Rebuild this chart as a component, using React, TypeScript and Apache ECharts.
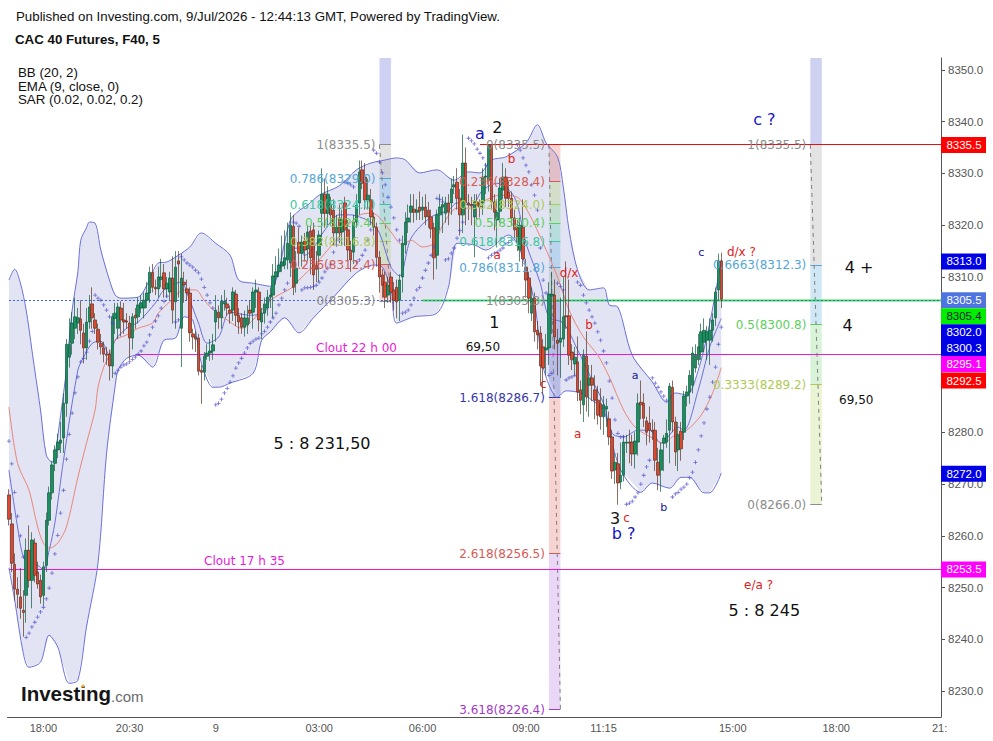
import React, { useEffect, useRef } from "react";
import * as echarts from "echarts";

// ---- axes ----
const barCount = 325;
const timeTicks: Record<number, string> = { 12: "18:00", 42: "20:30", 72: "9", 108: "03:00", 144: "06:00", 180: "09:00", 207: "11:15", 252: "15:00", 288: "18:00", 324: "21:" };
const priceTicks = [8230, 8240, 8250, 8260, 8270, 8280, 8290, 8300, 8310, 8320, 8330, 8340, 8350];
const priceLabels = [8230, 8240, 8250, 8260, 8270, 8280, 8310, 8320, 8330, 8340, 8350];
const priceMin = 8225;
const priceMax = 8352.3;

// ---- candles: open, close, low, high (one row per 5-minute bar) ----
const candles = [
/*0*/[8267.9,8263.2,8262,8269],[8262.3,8254.7,8253,8264.4],[8254.5,8249.7,8247.5,8256.6],[8249.7,8248.7,8246,8252],[8248.2,8246,8244,8253.8],
/*5*/[8245.6,8245.2,8240.5,8249.5],[8248.5,8257.2,8243.2,8259.5],[8257.2,8251.4,8250,8262],[8251.4,8259.2,8246,8260.7],[8258.6,8252.4,8251,8259.5],
/*10*/[8253,8250.7,8249.8,8255],[8251.4,8248.2,8246.9,8252.5],[8248.5,8254,8246.5,8255],[8254.3,8263,8253,8264.5],[8263,8268.3,8262,8269.5],
/*15*/[8268.3,8273.7,8267,8274.5],[8274,8276.6,8272.5,8277.5],[8276.6,8278.1,8275,8279.7],[8277.9,8278.5,8276,8282],[8278.9,8285.6,8276,8287.5],
/*20*/[8285.6,8297,8283,8298],[8294.5,8297,8292.5,8302],[8297.2,8301.1,8295,8303.2],[8300.1,8302.3,8298,8306],[8301.1,8302.1,8299,8304],
/*25*/[8301.9,8299.7,8297,8305.5],[8299.2,8296.3,8293.3,8301],[8296.3,8301.3,8294,8304],[8301.3,8304.2,8300,8306.5],[8304.8,8302.1,8300,8308],
/*30*/[8301.7,8300.1,8299,8303],[8299.9,8297.4,8296,8301],[8297.2,8296.5,8295,8299],[8296.3,8295.1,8293.5,8297.5],[8295.1,8294.9,8293,8296.5],
/*35*/[8295.1,8292.8,8290,8296],[8292.8,8302.3,8290.5,8303],[8302,8303,8299,8305],[8300.1,8304.2,8298,8305],[8304,8301.7,8298.5,8305.3],
/*40*/[8301.7,8301.3,8299,8305],[8301.5,8301.3,8300,8303],[8301.1,8298.2,8294,8302.5],[8298.2,8302.3,8296,8303],[8302.6,8302.1,8300,8304],
/*45*/[8302.3,8304.6,8301,8306],[8304,8305,8303,8306.5],[8304,8305.5,8302,8307],[8305.5,8306.9,8304,8309],[8306.9,8310.9,8305,8312],
/*50*/[8310.9,8308,8307,8312.5],[8308,8307.7,8306.5,8309.5],[8307.7,8310,8306,8312],[8309.5,8310,8308,8313.5],[8310.8,8307.7,8306,8312.5],
/*55*/[8307.7,8308.8,8306,8310],[8307.1,8309.8,8305.5,8311],[8309.8,8303.6,8301,8314],[8305.2,8311.9,8300,8315],[8313.1,8312.5,8306,8315],
/*60*/[8300.1,8309.8,8292.6,8314.5],[8309,8308.5,8305,8311],[8307.7,8306.9,8305.5,8309.5],[8306.9,8299.2,8297.5,8308],[8299,8298.4,8296,8300],
/*65*/[8298.4,8298,8295.5,8299.5],[8298.2,8291.8,8291,8299],[8292,8291.6,8285.5,8293],[8291.6,8294.7,8290,8295.5],[8294.7,8295.3,8294,8297],
/*70*/[8295.3,8295.7,8293.8,8298],[8295.7,8296.9,8294,8299],[8301.3,8303.6,8297.5,8306.5],[8303.2,8302.1,8300,8304.5],[8302.1,8305.3,8300,8306.5],
/*75*/[8304.8,8305.3,8303.5,8307.5],[8304.8,8304,8302.5,8306],[8303.6,8303,8301,8304.5],[8303.6,8307.1,8301.5,8308],[8306.7,8302.6,8300.5,8307.5],
/*80*/[8302.6,8301.3,8299,8304],[8302.1,8300.3,8299,8303],[8300.3,8302.1,8298.5,8303.5],[8300.7,8302.1,8299,8304.5],[8303.6,8303,8301,8305.5],
/*85*/[8303.2,8307.1,8300,8308],[8307.1,8307.5,8304,8309.5],[8307.1,8301.7,8299.5,8308],[8301.3,8303,8298,8304],[8303,8304.8,8301,8306],
/*90*/[8304,8306.1,8302.5,8307.5],[8306.1,8306.5,8304,8308],[8306.5,8310.2,8302,8312.5],[8310,8311,8308.5,8314],[8311,8312.3,8310,8315.5],
/*95*/[8312.1,8312.9,8311,8318],[8312.3,8313.7,8311.5,8319],[8313.3,8316.5,8311.5,8320.5],[8312.7,8320,8310,8322.5],[8319.8,8308,8306.5,8322],
/*100*/[8308.8,8311.7,8307,8315],[8316.7,8314.6,8312,8319.5],[8314.6,8316.7,8312,8318],[8316.9,8315.2,8313,8318.5],[8315.4,8318.7,8313,8320],
/*105*/[8318.9,8313.7,8310.5,8320],[8319.1,8310.4,8307.5,8320.5],[8312.3,8311.5,8309,8315],[8314.2,8318.1,8309,8319],[8322.3,8326,8316,8331],
/*110*/[8326,8322.3,8319.5,8329],[8322.3,8326,8320,8327.5],[8323.9,8322,8320,8325.5],[8322.9,8318.5,8316,8325],[8318.5,8319.6,8316.5,8322],
/*115*/[8321.4,8318.5,8316.5,8324],[8318.7,8321,8316,8323],[8324.3,8319.1,8316,8325.5],[8319.1,8315.2,8313,8321],[8315.2,8313.3,8311,8317],
/*120*/[8314.8,8320.6,8312.5,8322],[8320.6,8323.9,8319.5,8326],[8324.3,8330.3,8322,8332.5],[8330.7,8328.1,8327,8332.5],[8329.3,8324.9,8323,8332],
/*125*/[8324.9,8325.8,8323,8329],[8324.9,8321.6,8320,8327],[8321.6,8319.6,8318,8322.5],[8319.6,8313.8,8312,8320.5],[8313.8,8310,8307,8315],
/*130*/[8310.4,8308.4,8306,8311.5],[8309,8306.1,8304,8311],[8306.5,8308.4,8305,8310],[8310,8307.1,8305,8311],[8307.5,8305.5,8303.5,8309],
/*135*/[8308,8305.2,8302,8309.5],[8305.5,8309.4,8301.5,8310.5],[8310,8316.5,8307,8318],[8316.2,8320.6,8314.5,8322.5],[8320.6,8321.4,8318.5,8324],
/*140*/[8322.5,8323.7,8320.5,8326],[8323.1,8322.5,8320.5,8326],[8322.5,8322.9,8321,8325],[8323.5,8322.7,8321,8326.5],[8322.9,8323.5,8321,8325.5],
/*145*/[8323.5,8321.6,8320,8326],[8322.9,8321.6,8319.5,8324.5],[8321.6,8319.3,8317.5,8323],[8319.5,8313.7,8309.5,8320.5],[8314.2,8322,8311.5,8323],
/*150*/[8322,8323.5,8319,8326],[8323.5,8324,8318.5,8325.5],[8322.3,8324.3,8320.5,8325.5],[8324.3,8322.5,8320,8326],[8324.3,8327,8322,8329],
/*155*/[8327.4,8327.8,8326,8329.5],[8328.3,8325.2,8323,8331],[8325.2,8322,8318,8327],[8322,8332,8318.5,8337.5],[8332,8324.3,8320,8335],
/*160*/[8324.3,8323.9,8321,8326],[8324,8323.7,8320,8325.5],[8321.6,8324.5,8313.8,8326],[8324.5,8323.7,8321,8326],[8323.7,8323.5,8321.5,8325],
/*165*/[8324.3,8329.3,8322,8331],[8329.3,8329.5,8326,8332],[8328.7,8335.5,8326.5,8335.5],[8335.5,8324.5,8323,8335.5],[8324.5,8322.5,8319,8326],
/*170*/[8321,8322.5,8315.7,8325],[8322.7,8327.2,8320.5,8329],[8326.8,8329.3,8325,8332],[8329.3,8325.2,8323.5,8331],[8326.4,8325.2,8323.5,8328.5],
/*175*/[8325.2,8321.4,8320,8326.5],[8321.4,8319.1,8317.5,8323],[8319.5,8316.8,8315,8321],[8315.2,8320,8313,8321.5],[8319.6,8313.5,8312,8325],
/*180*/[8311.9,8309.4,8306,8313.5],[8309.8,8305.9,8303,8311],[8303,8305.9,8301.5,8308],[8305.9,8299.4,8297.5,8307],[8299.7,8298.8,8296,8301.5],
/*185*/[8299.2,8292.8,8289,8300.5],[8296.5,8292.4,8287.5,8298],[8295.9,8296.3,8291,8299],[8296.3,8306.7,8293,8309],[8306.3,8306.7,8299,8311],
/*190*/[8306.5,8298.4,8296,8309.5],[8297.8,8297.2,8291,8300],[8297.4,8298.2,8290.5,8306],[8298,8302.3,8296.5,8310],[8302.5,8302.3,8300,8313],
/*195*/[8302.5,8294.9,8293,8309.5],[8295.5,8294,8292,8297],[8293.2,8294.5,8291,8296.5],[8293.6,8287.8,8286,8298.5],[8288.2,8286.2,8283.5,8290],
/*200*/[8285.3,8294.9,8282,8296],[8294.7,8286.8,8284,8299.5],[8289.1,8290.5,8283,8293],[8290.5,8289.1,8286,8293],[8288.2,8286.2,8282.5,8291],
/*205*/[8286.2,8283.3,8281.5,8289],[8285.5,8283,8280.5,8288.5],[8283,8285.3,8279.5,8287],[8284.5,8285,8281,8286.5],[8282.6,8279.1,8277.5,8284],
/*210*/[8279.1,8272.5,8271,8280.5],[8272.7,8274.2,8270,8276],[8273.9,8270.2,8266,8276],[8270.4,8271.7,8269,8278],[8271.7,8278.1,8270.5,8279.5],
/*215*/[8277.9,8278.1,8276,8279.5],[8278.1,8277.9,8274,8280.5],[8278.1,8275.8,8273.5,8279.5],[8275.8,8278.3,8273,8280],[8278.1,8285.6,8275.5,8287.5],
/*220*/[8285.8,8285.3,8282.5,8290],[8285.6,8282.7,8281,8287.5],[8282.2,8280,8277.5,8283],[8281.8,8280.4,8278,8285],[8280.4,8280.2,8278.5,8282.5],
/*225*/[8280.4,8274.6,8272.5,8282],[8274.2,8271.7,8268.8,8277],[8272.7,8276.6,8268.5,8278],[8277.9,8278.9,8272.5,8279.5],[8278.1,8279.8,8277,8282.5],
/*230*/[8280.4,8288.9,8274,8289.5],[8288.7,8282,8280,8290],[8282,8276.2,8273.5,8283],[8276.6,8279.5,8272.5,8282],[8280.2,8276.8,8274.5,8282],
/*235*/[8280,8287,8278.5,8288],[8287,8287.8,8285,8289],[8287.8,8291,8285.5,8292],[8289.1,8295.3,8287.5,8296.5],[8292.4,8294.9,8291.5,8297],
/*240*/[8294,8296.5,8293,8299],[8295.5,8299.4,8294,8301],[8297.4,8299.7,8295.5,8302],[8297.8,8299.4,8294,8300.5],[8297.8,8299.7,8293,8302],
/*245*/[8299.7,8301.7,8297.5,8303],[8302.1,8307.1,8300.5,8308],[8307.5,8313.1,8305.5,8314.5],[8313.1,8305.7,8304,8314.7],
];

// ---- indicators: [bar index, price] ----
const bbUpper = [[0,8309.4],[2,8311.5],[4,8308.8],[6,8303.6],[8,8295.9],[9,8292],[11,8284.3],[13,8275.6],[15,8274.2],[16,8275.6],[18,8283.3],[20,8292],[22,8303.6],[24,8311],[25,8317.1],[27,8319.5],[28,8320.6],[30,8320.4],[32,8315.2],[35,8309.4],[37,8306.5],[39,8305.9],[45,8306.1],[48,8308.4],[52,8312.7],[55,8312.9],[59,8314.2],[63,8315.8],[67,8318.5],[72,8316.5],[77,8314.2],[80,8309.4],[85,8308.8],[91,8308.2],[98,8321],[101,8322.8],[104,8323.9],[108,8325.8],[115,8327.6],[121,8330.7],[126,8332],[131,8332.6],[135,8333],[138,8332.6],[143,8330.1],[149,8330.7],[155,8328.7],[160,8330.3],[164,8330.1],[168,8332.6],[173,8333.2],[180,8335.9],[184,8339.4],[187,8335.9],[191,8333.2],[193,8327.4],[195,8319.1],[198,8311.3],[202,8307.5],[207,8307.9],[209,8304.6],[212,8304.2],[217,8294.9],[224,8289.7],[229,8285.8],[232,8287.6],[236,8287.2],[240,8292],[244,8301.1],[248,8313.3]];
const bbLower = [[0,8253.8],[2,8247.6],[5,8237.3],[7,8234.6],[11,8235.6],[14,8240.8],[17,8238.5],[21,8231.5],[24,8232.1],[27,8242.4],[31,8254.7],[34,8276],[37,8289],[38,8292],[41,8294.3],[45,8294.9],[50,8292.6],[54,8297.8],[58,8298.2],[61,8302.3],[64,8301.7],[67,8293.4],[71,8288.7],[73,8288.7],[77,8289.5],[85,8291.4],[88,8297.8],[91,8299.4],[96,8302.1],[101,8299.2],[106,8302.1],[113,8306.1],[121,8310.8],[127,8312.3],[130,8311.9],[133,8307.5],[135,8301.1],[141,8302.3],[149,8303],[153,8308],[156,8316.5],[162,8316.2],[166,8315.2],[174,8318.1],[178,8315.2],[183,8305],[186,8292.6],[191,8286.8],[194,8288],[199,8287.6],[203,8286.2],[207,8284.3],[209,8280.4],[213,8272.7],[220,8268.4],[224,8270.2],[230,8269.2],[234,8271.3],[237,8271.3],[242,8268.3],[244,8268.3],[248,8272.1]];
const bbBasis = [[0,8284.9],[3,8274],[7,8268.8],[10,8261.7],[12,8258.6],[14,8257.6],[17,8258.6],[20,8261.7],[24,8271.3],[27,8277.9],[30,8284.3],[31,8288.7],[33,8292.6],[35,8294.9],[37,8297.8],[41,8298.8],[45,8300.1],[50,8301.1],[52,8303],[56,8305.2],[61,8307.5],[65,8307.5],[68,8305.5],[72,8303.2],[76,8301.7],[81,8300.1],[85,8301.7],[91,8305.5],[99,8308.1],[101,8309.4],[107,8312.7],[113,8316.5],[121,8321.6],[125,8322.3],[128,8322],[133,8318.7],[137,8316.2],[140,8317.1],[144,8315.8],[148,8316.5],[151,8320],[156,8323.3],[161,8323.3],[164,8324.3],[171,8325.8],[177,8325.4],[181,8322.3],[186,8316.5],[191,8310],[195,8303.6],[200,8298.4],[205,8294.9],[209,8290.7],[214,8284.3],[218,8281],[224,8278.9],[228,8277.9],[231,8279.1],[236,8280.4],[241,8283.3],[245,8287.6],[248,8292.5]];
const ema9 = [[0,8272.7],[3,8261.7],[5,8255.9],[7,8254.9],[10,8254.3],[12,8253.4],[14,8257.2],[16,8262.5],[19,8274.6],[24,8292],[26,8294.5],[29,8297.2],[32,8297.6],[35,8294.9],[37,8297.8],[41,8300.1],[45,8301.3],[51,8305],[54,8307.5],[60,8309],[62,8306.9],[66,8301.1],[69,8297.2],[73,8298.4],[77,8303.2],[84,8302.6],[89,8303.2],[91,8306.1],[95,8312.3],[100,8315.6],[103,8314.2],[106,8315.6],[110,8319.1],[115,8322],[119,8322],[122,8321.6],[126,8320.6],[129,8318.5],[133,8311.9],[136,8310.2],[140,8317.5],[147,8321.6],[153,8322.9],[156,8324.3],[161,8323.9],[165,8326.8],[170,8328.1],[176,8325.4],[180,8316.5],[185,8308.8],[188,8302.3],[193,8301.1],[198,8295.9],[203,8290.1],[207,8285.6],[210,8279.8],[214,8279.1],[219,8280.4],[223,8280.4],[227,8277.9],[233,8281],[235,8280.4],[240,8288.2],[244,8296.5],[248,8302]];
const sar = [[0,8278.3],[1,8273.9],[2,8268.4],[3,8263.8],[4,8260],[5,8255.9],[6,8240.4],[7,8241.2],[8,8242.4],[9,8243.3],[10,8244.3],[11,8245.3],[12,8246.2],[13,8247.8],[14,8249.9],[15,8252.8],[16,8256.5],[17,8260.1],[18,8264.4],[19,8268.8],[20,8274.8],[21,8279.6],[22,8283.7],[23,8287.6],[24,8290.7],[25,8293.6],[26,8294.3],[27,8295.5],[28,8297.6],[29,8299.5],[30,8306.5],[31,8305.9],[32,8305.5],[33,8304.6],[34,8303.6],[35,8302.3],[36,8301.1],[37,8291.4],[38,8292],[39,8292.6],[40,8293],[41,8293.2],[42,8293.6],[43,8294.1],[44,8294.5],[45,8295.1],[46,8295.7],[47,8296.7],[48,8297.4],[49,8298.8],[50,8300.3],[51,8301.5],[52,8302.5],[53,8304],[54,8305.3],[55,8306.3],[58,8301.3],[59,8301.7],[60,8313.9],[61,8313.3],[62,8312.7],[63,8312.3],[64,8311.9],[65,8311.3],[66,8310.8],[67,8309.6],[68,8308],[69,8306.5],[70,8305],[71,8304],[72,8285.3],[73,8285.6],[74,8286.4],[75,8287.6],[76,8288.5],[77,8289.7],[78,8290.9],[79,8292.4],[80,8293.4],[81,8294.3],[82,8295.3],[83,8296.3],[84,8297.2],[85,8297.6],[86,8298],[87,8298.2],[88,8299],[89,8299.5],[90,8300.3],[91,8301.3],[92,8302.1],[93,8303],[94,8304.6],[95,8305.9],[96,8307.5],[97,8308.8],[99,8320.6],[100,8320.4],[101,8319.8],[102,8307.5],[103,8307.9],[104,8307.9],[105,8308],[106,8308.2],[107,8308.4],[108,8309],[109,8309.8],[110,8311],[111,8311.7],[112,8312.5],[113,8314.8],[114,8316.2],[115,8317.1],[117,8328.3],[118,8328.1],[119,8327.8],[120,8327.4],[121,8312.9],[122,8313.3],[123,8314.2],[124,8315.2],[125,8317.1],[126,8319.1],[127,8334.5],[128,8333.9],[129,8332.2],[130,8330.1],[131,8327.8],[132,8325.4],[133,8323.5],[134,8321.4],[135,8319.1],[136,8317.1],[137,8303],[138,8303.2],[139,8303.6],[140,8304.6],[141,8305.9],[142,8307.5],[143,8308],[144,8309.8],[145,8311.3],[146,8312.7],[147,8314.2],[148,8315.8],[149,8325.2],[150,8325],[151,8324.5],[152,8313.3],[153,8313.5],[154,8314.6],[155,8315.6],[156,8317.5],[157,8319],[158,8320.6],[160,8336.8],[161,8336.3],[162,8335.7],[163,8334.7],[164,8333.9],[165,8333],[166,8331.6],[167,8313.7],[168,8314.2],[169,8314.6],[170,8314.8],[171,8315.2],[172,8315.6],[173,8316.4],[174,8316.7],[175,8317.1],[177,8335.5],[178,8334.5],[179,8333],[180,8331.6],[181,8330.3],[182,8327.8],[183,8325.8],[184,8322.9],[185,8315.6],[186,8309.4],[187,8306.9],[188,8291],[189,8291.4],[191,8308.8],[192,8308.2],[193,8307.5],[194,8290.1],[195,8290.5],[196,8290.7],[197,8291],[198,8309],[199,8308.4],[200,8306.5],[201,8305],[202,8303.6],[203,8302.3],[204,8301.1],[205,8299.4],[206,8297.8],[207,8295.7],[208,8293.4],[209,8289.9],[210,8286.6],[211,8282.4],[212,8279.8],[213,8279.1],[214,8279.1],[215,8266.1],[216,8266.3],[217,8266.7],[218,8267.5],[219,8268.3],[220,8270],[221,8271.7],[222,8273.3],[223,8274.6],[224,8290.5],[225,8289.5],[226,8288.7],[227,8287.8],[228,8287],[229,8286.2],[231,8267.5],[232,8268.1],[233,8268.4],[234,8269],[235,8269.4],[236,8270],[237,8271.2],[238,8272.3],[239,8274.2],[240,8276.6],[241,8279.3],[242,8281.8],[243,8284.5],[244,8286.8],[245,8289.7],[246,8292.6],[247,8297],[248,8300.3]];

// ---- Fibonacci drawings: bar span, then [label, price, shade name] from top to bottom ----
const fibBandA = { from: 129, to: 133, top: priceMax, shadeTop: "navy" };
const fibLevelsA: [string, number, string][] = [["1",8335.5,"gray"],["0.786",8329.0,"blue"],["0.618",8324.0,"teal"],["0.5",8320.4,"green"],["0.382",8316.8,"olive"],["0.236",8312.4,"red"],["0",8305.3,"end"]];
const fibBandB = { from: 188, to: 192, top: 8335.5, shadeTop: "red" };
const fibLevelsB: [string, number, string][] = [["0",8335.5,"red"],["0.236",8328.4,"olive"],["0.382",8324.0,"green"],["0.5",8320.4,"teal"],["0.618",8316.8,"blue"],["0.786",8311.8,"gray"],["1",8305.3,"navy"],["1.618",8286.7,"red"],["2.618",8256.5,"purple"],["3.618",8226.4,"end"]];
const fibBandC = { from: 279, to: 283, top: priceMax, shadeTop: "navy" };
const fibLevelsC: [string, number, string][] = [["1",8335.5,"gray"],["0.6663",8312.3,"blue"],["0.5",8300.8,"green"],["0.3333",8289.2,"olive"],["0",8266.0,"end"]];
// the colour of a level's label
const fibLabelTones: Record<string, string> = { "0": "gray", "1": "gray", "0.786": "blue", "0.618": "teal", "0.5": "green", "0.382": "olive", "0.236": "red", "1.618": "navy", "2.618": "red", "3.618": "purple", "0.6663": "blue", "0.3333": "olive" };

// ---- horizontal lines: starting bar, price ----
const redLine = [164, 8335.5];
const greenLine = [144, 8305.4];
const lastLine = [0, 8305.5];
const cloutLines = [[44, 8295.1], [0, 8253.5]];

// ---- price tags: text, axis position after de-overlap, kind ----
const priceTags: [string, number, string][] = [["8335.5",8335.5,"red"],["8313.0",8313.0,"blue"],["8305.5",8305.5,"last"],["8305.4",8302.4,"green"],["8302.0",8299.3,"blue"],["8300.3",8296.3,"blue"],["8295.1",8293.2,"magenta"],["8292.5",8290.0,"red"],["8272.0",8272.0,"blue"],["8253.5",8253.5,"magenta"]];

// ---- annotations: text, bar, price ----
const notesBigBlue: [string, number, number][] = [["a",164,8337.8],["c ?",263,8340.5],["b ?",214,8260.5]];
const notesBigBlack: [string, number, number][] = [["2",170,8338.8],["1",169,8301.3],["3",211,8263.4],["5 : 8 231,50",109,8277.9],["5 : 8 245",263,8245.6],["4 +",296,8311.9],["4",292,8300.7]];
const notesSmallBlack: [string, number, number][] = [["69,50",165,8296.5],["69,50",295,8286.2]];
const notesRed: [string, number, number][] = [["b",175,8332.8],["a",170,8314.2],["d/x",195,8310.8],["b",202,8300.7],["c",186,8289.4],["a",198,8279.6],["c",215,8263.4],["d/x ?",255,8314.8],["e/a ?",261,8250.5]];
const notesNavy: [string, number, number][] = [["a",218,8291],["c",241,8314.8],["b",228,8265.4]];
const notesMagenta: [string, number, number][] = [["Clout 22 h 00",121,8296.3],["Clout 17 h 35",82,8255.1]];

const headerLine = "Published on Investing.com, 9/Jul/2026 - 12:44:13 GMT, Powered by TradingView.";
const titleLine = "CAC 40 Futures, F40, 5";
const studyLines = ["BB (20, 2)", "EMA (9, close, 0)", "SAR (0.02, 0.02, 0.2)"];

// ---- styles ----
const SANS = '"Liberation Sans", Arial, sans-serif';
const DEJA = '"DejaVu Sans", Verdana, sans-serif';
const SHADES: Record<string, string> = {
  navy: "rgba(60,70,200,0.25)", gray: "rgba(128,128,128,0.22)", blue: "rgba(66,165,220,0.25)", teal: "rgba(60,200,160,0.25)",
  green: "rgba(80,200,80,0.22)", olive: "rgba(160,200,60,0.22)", red: "rgba(220,60,50,0.22)", purple: "rgba(150,50,210,0.2)",
};
const TONES: Record<string, string> = { gray: "#8c8c8c", blue: "#55a6d6", teal: "#3cc8a0", green: "#5ccf5c", olive: "#aecb57", red: "#d65a55", navy: "#3636ac", purple: "#a23ac8" };
const TAGS: Record<string, [string, string]> = { red: ["#ff0000", "#fff"], blue: ["#0000e6", "#fff"], last: ["#4f74e0", "#fff"], green: ["#00ee00", "#123"], magenta: ["#ff00ff", "#fff"] };
const BAND_LINE = "#6a70d8";
const crisp = (y: number) => Math.round(y - 0.5) + 0.5;

const textEl = (text: string, x: number, y: number, fill: string, font: string, align = "center", z2 = 10) => ({
  type: "text", x, y, z2, silent: true,
  style: { text, fill, font, align, verticalAlign: "middle", textAlign: align, textVerticalAlign: "middle" },
});

function fibElements(api: any, band: any, levels: [string, number, string][]) {
  const out: any[] = [];
  const xa = api.coord([band.from, levels[0][1]])[0];
  const xb = api.coord([band.to, levels[0][1]])[0];
  const yOf = (v: number) => api.coord([band.from, v])[1];
  const rect = (t: number, b: number, shade: string) => ({
    type: "rect", shape: { x: xa, y: yOf(t), width: xb - xa, height: yOf(b) - yOf(t) }, style: { fill: SHADES[shade] }, silent: true,
  });
  if (band.top > levels[0][1]) out.push(rect(band.top, levels[0][1], band.shadeTop));
  levels.forEach((lv, n) => {
    if (n < levels.length - 1) out.push(rect(lv[1], levels[n + 1][1], lv[2]));
  });
  levels.forEach((lv) => {
    const y = crisp(yOf(lv[1]));
    out.push({ type: "line", shape: { x1: xa, y1: y, x2: xb, y2: y }, style: { stroke: TONES[fibLabelTones[lv[0]]], lineWidth: 1 }, silent: true });
  });
  const first = levels[0], last = levels[levels.length - 1];
  out.push({ type: "line", shape: { x1: xa, y1: yOf(first[1]), x2: xb, y2: yOf(last[1]) }, style: { stroke: "#7f7f7f", lineWidth: 1, lineDash: [4, 4] }, silent: true });
  return out;
}

function fibLabels(api: any, band: any, levels: [string, number, string][]) {
  return levels.map((lv) => {
    const p = api.coord([band.from, lv[1]]);
    return textEl(`${lv[0]}(${lv[1].toFixed(1)})`, p[0] - 4, p[1], TONES[fibLabelTones[lv[0]]], `12px ${DEJA}`, "right");
  });
}

export default function App() {
  const ref = useRef<HTMLDivElement>(null);
  useEffect(() => {
    if (!ref.current) return;
    const chart = echarts.init(ref.current, undefined, { renderer: "svg" });
    const categories = Array.from({ length: barCount }, (_, i) => timeTicks[i] ?? "");
    const isLabelled = (i: number) => timeTicks[i] !== undefined;

    const notes = (list: [string, number, number][], api: any, fill: string, font: string) =>
      list.map(([t, i, v]) => {
        const p = api.coord([i, v]);
        return textEl(t, p[0], p[1], fill, font);
      });

    const option: any = {
      animation: false,
      backgroundColor: "#fff",
      grid: { left: 7.5, right: 52, top: 58, bottom: 24 },
      xAxis: {
        type: "category", data: categories, boundaryGap: true,
        axisLine: { lineStyle: { color: "#555" } },
        axisTick: { interval: isLabelled, alignWithLabel: true, length: 4, lineStyle: { color: "#555" } },
        axisLabel: { interval: isLabelled, color: "#555", fontFamily: "Liberation Sans", fontSize: 11, margin: 5 },
        splitLine: { show: false },
      },
      yAxis: {
        type: "value", position: "right", min: priceMin, max: priceMax, scale: true,
        axisLine: { show: true, lineStyle: { color: "#555" } },
        axisTick: { show: true, length: 4, customValues: priceTicks, lineStyle: { color: "#555" } },
        axisLabel: { color: "#555", fontFamily: "Liberation Sans", fontSize: 11.5, margin: 7, customValues: priceLabels, formatter: (v: number) => v.toFixed(1) },
        splitLine: { show: false },
      },
      graphic: [
        { type: "text", x: 16, y: 10, style: { text: headerLine, fill: "#111", font: `13.3px ${SANS}` } },
        { type: "text", x: 15, y: 33, style: { text: titleLine, fill: "#111", font: `bold 13.3px ${SANS}` } },
        ...studyLines.map((s, n) => ({ type: "text", x: 18, y: 66 + n * 13.5, style: { text: s, fill: "#111", font: `13.3px ${SANS}` } })),
        { type: "text", x: 21, y: 683, z: 20, style: { text: "Investing", fill: "#161616", font: `bold 20.5px ${SANS}` } },
        { type: "text", x: 111, y: 689, z: 20, style: { text: ".com", fill: "#6a6a6a", font: `15px ${SANS}` } },
        { type: "circle", shape: { cx: 83, cy: 686, r: 1.5 }, z: 21, style: { fill: "#f5a623" } },
      ],
      series: [
        {
          type: "custom", z: 1, silent: true, data: [[0, 8300]], clip: false,
          renderItem: (_: any, api: any) => {
            const pts = [...bbUpper, ...[...bbLower].reverse()].map((p) => api.coord(p));
            return { type: "polygon", shape: { points: pts }, style: { fill: "#e2e4f3" }, silent: true };
          },
        },
        {
          type: "custom", z: 2, silent: true, data: [[0, 8300]], clip: false,
          renderItem: (_: any, api: any) => ({
            type: "group",
            children: [...fibElements(api, fibBandA, fibLevelsA), ...fibElements(api, fibBandB, fibLevelsB), ...fibElements(api, fibBandC, fibLevelsC)],
          }),
        },
        ...[bbUpper, bbLower, ema9].map((d) => ({ type: "line", z: 3, data: d, showSymbol: false, silent: true, smooth: 0.3, lineStyle: { color: BAND_LINE, width: 1 } })),
        { type: "line", z: 3, data: bbBasis, showSymbol: false, silent: true, smooth: 0.3, lineStyle: { color: "#e9857c", width: 1 } },
        {
          type: "custom", z: 3, silent: true, data: [[0, 8300]], clip: false,
          renderItem: (params: any, api: any) => {
            const right = params.coordSys.x + params.coordSys.width;
            const hline = (start: number[], stroke: string, lineWidth: number, dash?: number[]) => {
              const p = api.coord(start);
              const y = crisp(p[1]);
              return { type: "line", shape: { x1: p[0], y1: y, x2: right, y2: y }, style: { stroke, lineWidth, lineDash: dash }, silent: true };
            };
            return {
              type: "group",
              children: [
                hline(greenLine, "#3fe04f", 2),
                hline(lastLine, "#3f63d8", 1, [2, 2]),
                hline(redLine, "#e11212", 1),
                ...cloutLines.map((c) => hline(c, "#ea18dc", 1)),
              ],
            };
          },
        },
        {
          type: "candlestick", z: 4, data: candles, barWidth: 3, silent: true,
          itemStyle: { color: "#1a9060", color0: "#e0452f", borderColor: "#0f5a3c", borderColor0: "#5a3222", borderWidth: 0.7 },
        },
        {
          type: "scatter", z: 5, data: sar, silent: true, symbolSize: 4,
          symbol: "path://M2,0h1v2h2v1h-2v2h-1v-2h-2v-1h2z",
          itemStyle: { color: "#4a48c8" },
        },
        {
          type: "custom", z: 7, silent: true, data: [[0, 8300]], clip: false,
          renderItem: (params: any, api: any) => {
            const right = params.coordSys.x + params.coordSys.width;
            const tags = priceTags.flatMap(([t, v, kind]) => {
              const y = api.coord([0, v])[1];
              const [bg, fg] = TAGS[kind];
              return [
                { type: "rect", shape: { x: right, y: y - 8, width: 45, height: 16 }, style: { fill: bg }, silent: true },
                textEl(t, right + 23, y, fg, `11.5px ${SANS}`),
              ];
            });
            return {
              type: "group",
              children: [
                ...fibLabels(api, fibBandA, fibLevelsA),
                ...fibLabels(api, fibBandB, fibLevelsB),
                ...fibLabels(api, fibBandC, fibLevelsC),
                ...notes(notesBigBlue, api, "#1414c8", `16px ${DEJA}`),
                ...notes(notesBigBlack, api, "#111", `16px ${DEJA}`),
                ...notes(notesSmallBlack, api, "#111", `12px ${DEJA}`),
                ...notes(notesRed, api, "#dc1e1e", `12px ${DEJA}`),
                ...notes(notesNavy, api, "#14149c", `11px ${DEJA}`),
                ...notes(notesMagenta, api, "#e81ad8", `12px ${DEJA}`),
                ...tags,
              ],
            };
          },
        },
      ],
    };
    chart.setOption(option);
    return () => chart.dispose();
  }, []);
  return <div ref={ref} style={{ position: "fixed", left: 0, top: 0, width: 993, height: 741 }} />;
}
